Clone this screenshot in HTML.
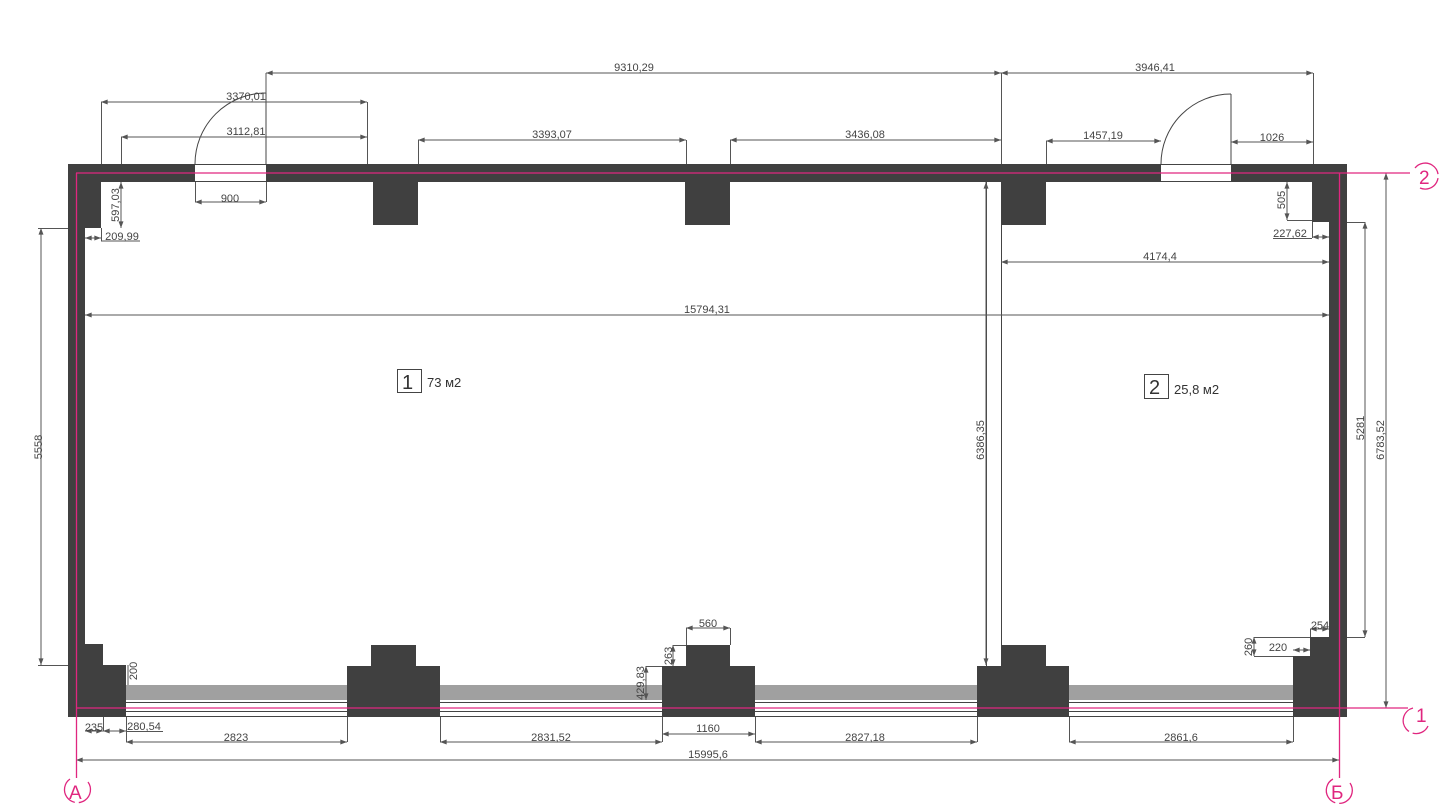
<!DOCTYPE html>
<html><head><meta charset="utf-8"><style>
html,body{margin:0;padding:0;background:#fff;}
svg{display:block;}
text{font-family:"Liberation Sans",sans-serif;font-size:11px;fill:#444;}
</style></head><body>
<svg width="1440" height="810" viewBox="0 0 1440 810" xmlns="http://www.w3.org/2000/svg">
<defs>
<marker id="a" viewBox="0 0 8 6" refX="8" refY="3" markerWidth="7" markerHeight="5" orient="auto-start-reverse"><path d="M0,0 L8,3 L0,6 z" fill="#555"/></marker>
</defs>
<!-- glazing strips -->
<g fill="#a0a0a0">
<rect x="126" y="685" width="221" height="15"/><rect x="440" y="685" width="222" height="15"/>
<rect x="755" y="685" width="222" height="15"/><rect x="1069" y="685" width="224" height="15"/>
</g>
<g stroke="#444" stroke-width="1">
<line x1="126" y1="702.5" x2="1293" y2="702.5"/><line x1="126" y1="711.5" x2="1293" y2="711.5"/><line x1="126" y1="716.5" x2="1293" y2="716.5"/>
</g>
<!-- walls -->
<g fill="#404040">
<rect x="68" y="164" width="127" height="18"/>
<rect x="266" y="164" width="895" height="18"/>
<rect x="1231" y="164" width="116" height="18"/>
<rect x="68" y="164" width="33" height="64"/>
<rect x="68" y="164" width="17" height="553"/>
<rect x="1312" y="164" width="35" height="58"/>
<rect x="1329" y="164" width="18" height="553"/>
<rect x="373" y="182" width="45" height="43"/>
<rect x="685" y="182" width="45" height="43"/>
<rect x="1001" y="182" width="45" height="43"/>
<!-- bottom left corner -->
<rect x="68" y="644" width="35" height="73"/>
<rect x="68" y="665" width="58" height="52"/>
<!-- bottom pillars -->
<rect x="347" y="666" width="93" height="51"/><rect x="371" y="645" width="45" height="22"/>
<rect x="662" y="666" width="93" height="51"/><rect x="686" y="645" width="44" height="22"/>
<rect x="977" y="666" width="92" height="51"/><rect x="1001" y="645" width="45" height="22"/>
<!-- bottom right corner -->
<rect x="1310" y="637" width="37" height="80"/>
<rect x="1293" y="656" width="54" height="61"/>
</g>
<!-- doors -->
<g stroke="#444" stroke-width="1" fill="none">
<line x1="195" y1="164.5" x2="266" y2="164.5"/><line x1="195" y1="181.5" x2="266" y2="181.5"/>
<path d="M195,164 A71,71 0 0 1 266,93"/><line x1="266" y1="93" x2="266" y2="164"/>
<line x1="1161" y1="164.5" x2="1231" y2="164.5"/><line x1="1161" y1="181.5" x2="1231" y2="181.5"/>
<path d="M1161,164 A70,70 0 0 1 1231,94"/><line x1="1231" y1="94" x2="1231" y2="164"/>
<!-- partition -->
<line x1="1001.5" y1="225" x2="1001.5" y2="645"/>
<line x1="986.5" y1="182" x2="986.5" y2="666"/>
</g>
<!-- dimension lines -->
<g stroke="#555" stroke-width="1" fill="none">
<line x1="266" y1="73" x2="1001" y2="73" marker-start="url(#a)" marker-end="url(#a)"/>
<line x1="266" y1="73" x2="266" y2="93"/><line x1="1001.5" y1="73" x2="1001.5" y2="164"/>
<line x1="1001" y1="73" x2="1313" y2="73" marker-start="url(#a)" marker-end="url(#a)"/>
<line x1="1313.5" y1="73" x2="1313.5" y2="164"/>
<line x1="101" y1="102" x2="367" y2="102" marker-start="url(#a)" marker-end="url(#a)"/>
<line x1="101.5" y1="102" x2="101.5" y2="164"/><line x1="367.5" y1="102" x2="367.5" y2="164"/>
<line x1="121" y1="137" x2="367" y2="137" marker-start="url(#a)" marker-end="url(#a)"/>
<line x1="121.5" y1="137" x2="121.5" y2="164"/>
<line x1="418" y1="140" x2="686" y2="140" marker-start="url(#a)" marker-end="url(#a)"/>
<line x1="418.5" y1="140" x2="418.5" y2="164"/><line x1="686.5" y1="140" x2="686.5" y2="164"/>
<line x1="730" y1="140" x2="1001" y2="140" marker-start="url(#a)" marker-end="url(#a)"/>
<line x1="730.5" y1="140" x2="730.5" y2="164"/>
<line x1="1046" y1="141" x2="1161" y2="141" marker-start="url(#a)" marker-end="url(#a)"/>
<line x1="1046.5" y1="141" x2="1046.5" y2="164"/>
<line x1="1231" y1="142" x2="1313" y2="142" marker-start="url(#a)" marker-end="url(#a)"/>
<line x1="195" y1="202" x2="266" y2="202" marker-start="url(#a)" marker-end="url(#a)"/>
<line x1="195.5" y1="182" x2="195.5" y2="202"/><line x1="266.5" y1="182" x2="266.5" y2="202"/>
<line x1="121" y1="182" x2="121" y2="228" marker-start="url(#a)" marker-end="url(#a)"/>
<line x1="85" y1="238" x2="101" y2="238" marker-start="url(#a)" marker-end="url(#a)"/>
<line x1="101" y1="241" x2="140" y2="241"/><line x1="101.5" y1="228" x2="101.5" y2="241"/>
<line x1="1287" y1="182" x2="1287" y2="220" marker-start="url(#a)" marker-end="url(#a)"/>
<line x1="1287" y1="220.5" x2="1312" y2="220.5"/>
<line x1="1312" y1="237" x2="1329" y2="237" marker-start="url(#a)" marker-end="url(#a)"/>
<line x1="1273" y1="238.5" x2="1312" y2="238.5"/><line x1="1312.5" y1="222" x2="1312.5" y2="238"/>
<line x1="1001" y1="262" x2="1329" y2="262" marker-start="url(#a)" marker-end="url(#a)"/>
<line x1="85" y1="315" x2="1329" y2="315" marker-start="url(#a)" marker-end="url(#a)"/>
<line x1="41" y1="228" x2="41" y2="665" marker-start="url(#a)" marker-end="url(#a)"/>
<line x1="38" y1="228.5" x2="68" y2="228.5"/><line x1="38" y1="665.5" x2="68" y2="665.5"/>
<line x1="986" y1="182" x2="986" y2="665" marker-start="url(#a)" marker-end="url(#a)"/>
<line x1="1365" y1="222" x2="1365" y2="637" marker-start="url(#a)" marker-end="url(#a)"/>
<line x1="1347" y1="222.5" x2="1365" y2="222.5"/><line x1="1347" y1="637.5" x2="1365" y2="637.5"/>
<line x1="1386" y1="173" x2="1386" y2="708" marker-start="url(#a)" marker-end="url(#a)"/>
<line x1="128" y1="665" x2="128" y2="685"/>
<line x1="673" y1="645" x2="673" y2="666" marker-start="url(#a)" marker-end="url(#a)"/>
<line x1="673" y1="645.5" x2="686" y2="645.5"/>
<line x1="646" y1="666" x2="646" y2="700" marker-start="url(#a)" marker-end="url(#a)"/>
<line x1="646" y1="666.5" x2="662" y2="666.5"/>
<line x1="686" y1="628" x2="730" y2="628" marker-start="url(#a)" marker-end="url(#a)"/>
<line x1="686.5" y1="628" x2="686.5" y2="645"/><line x1="730.5" y1="628" x2="730.5" y2="645"/>
<line x1="1310" y1="629" x2="1329" y2="629" marker-start="url(#a)" marker-end="url(#a)"/>
<line x1="1310.5" y1="629" x2="1310.5" y2="637"/>
<line x1="1254" y1="637" x2="1254" y2="656" marker-start="url(#a)" marker-end="url(#a)"/>
<line x1="1254" y1="637.5" x2="1310" y2="637.5"/><line x1="1254" y1="656.5" x2="1293" y2="656.5"/>
<line x1="1293" y1="650" x2="1310" y2="650" marker-start="url(#a)" marker-end="url(#a)"/>
<line x1="85" y1="731" x2="103" y2="731" marker-start="url(#a)" marker-end="url(#a)"/>
<line x1="103" y1="731" x2="126" y2="731" marker-start="url(#a)" marker-end="url(#a)"/>
<line x1="126" y1="731.5" x2="163" y2="731.5"/>
<line x1="103.5" y1="717" x2="103.5" y2="731"/>
<line x1="126" y1="742" x2="347" y2="742" marker-start="url(#a)" marker-end="url(#a)"/>
<line x1="126.5" y1="717" x2="126.5" y2="742"/><line x1="347.5" y1="717" x2="347.5" y2="742"/>
<line x1="440" y1="742" x2="662" y2="742" marker-start="url(#a)" marker-end="url(#a)"/>
<line x1="440.5" y1="717" x2="440.5" y2="742"/><line x1="662.5" y1="717" x2="662.5" y2="742"/>
<line x1="662" y1="734" x2="755" y2="734" marker-start="url(#a)" marker-end="url(#a)"/>
<line x1="755" y1="742" x2="977" y2="742" marker-start="url(#a)" marker-end="url(#a)"/>
<line x1="755.5" y1="717" x2="755.5" y2="742"/><line x1="977.5" y1="717" x2="977.5" y2="742"/>
<line x1="1069" y1="742" x2="1293" y2="742" marker-start="url(#a)" marker-end="url(#a)"/>
<line x1="1069.5" y1="717" x2="1069.5" y2="742"/><line x1="1293.5" y1="717" x2="1293.5" y2="742"/>
<line x1="76" y1="760" x2="1339" y2="760" marker-start="url(#a)" marker-end="url(#a)"/>
</g>
<!-- pink axes -->
<g stroke="#e0267f" stroke-width="1.3" fill="none">
<line x1="76" y1="173" x2="1410" y2="173"/>
<line x1="76" y1="708" x2="1408" y2="708"/>
<line x1="76.5" y1="173" x2="76.5" y2="778"/>
<line x1="1339.5" y1="173" x2="1339.5" y2="778"/>
<path d="M1415,168 A13,13 0 1 1 1420,188" stroke-dasharray="30 4"/>
<path d="M1413,708 A13,13 0 1 0 1428,726" stroke-dasharray="30 4"/>
<path d="M70,779 A13,13 0 1 0 88,782" stroke-dasharray="30 4"/>
<path d="M1333,779 A13,13 0 1 0 1350,783" stroke-dasharray="30 4"/>
</g>
<g style="font-size:19px" fill="#e0267f">
<text x="1419" y="184" style="font-size:19px;fill:#e0267f">2</text>
<text x="1416" y="722" style="font-size:19px;fill:#e0267f">1</text>
<text x="69" y="799" style="font-size:19px;fill:#e0267f">A</text>
<text x="1331" y="799" style="font-size:19px;fill:#e0267f">Б</text>
</g>
<!-- room labels -->
<rect x="397.5" y="369.5" width="24" height="23" fill="none" stroke="#444"/>
<text x="402" y="389" style="font-size:20px;fill:#333">1</text>
<text x="427" y="387" style="font-size:13px;fill:#333">73 м2</text>
<rect x="1144.5" y="374.5" width="24" height="24" fill="none" stroke="#444"/>
<text x="1149" y="394" style="font-size:20px;fill:#333">2</text>
<text x="1174" y="394" style="font-size:13px;fill:#333">25,8 м2</text>
<!-- dim texts -->
<g text-anchor="middle">
<text x="634" y="71">9310,29</text>
<text x="1155" y="71">3946,41</text>
<text x="246" y="100">3370,01</text>
<text x="246" y="135">3112,81</text>
<text x="552" y="138">3393,07</text>
<text x="865" y="138">3436,08</text>
<text x="1103" y="139">1457,19</text>
<text x="1272" y="141">1026</text>
<text x="230" y="202">900</text>
<text x="122" y="240">209,99</text>
<text x="1290" y="237">227,62</text>
<text x="1160" y="260">4174,4</text>
<text x="707" y="313">15794,31</text>
<text x="708" y="627">560</text>
<text x="1320" y="629">254</text>
<text x="1278" y="651">220</text>
<text x="94" y="731">235</text>
<text x="144" y="730">280,54</text>
<text x="236" y="741">2823</text>
<text x="708" y="732">1160</text>
<text x="551" y="741">2831,52</text>
<text x="865" y="741">2827,18</text>
<text x="1181" y="741">2861,6</text>
<text x="708" y="758">15995,6</text>
<text transform="translate(119,205) rotate(-90)">597,03</text>
<text transform="translate(1285,200) rotate(-90)">505</text>
<text transform="translate(42,447) rotate(-90)">5558</text>
<text transform="translate(984,440) rotate(-90)">6386,35</text>
<text transform="translate(1364,428) rotate(-90)">5281</text>
<text transform="translate(1384,440) rotate(-90)">6783,52</text>
<text transform="translate(137,671) rotate(-90)">200</text>
<text transform="translate(672,656) rotate(-90)">263</text>
<text transform="translate(644,683) rotate(-90)">429,83</text>
<text transform="translate(1252,647) rotate(-90)">260</text>
</g>
</svg>
</body></html>
